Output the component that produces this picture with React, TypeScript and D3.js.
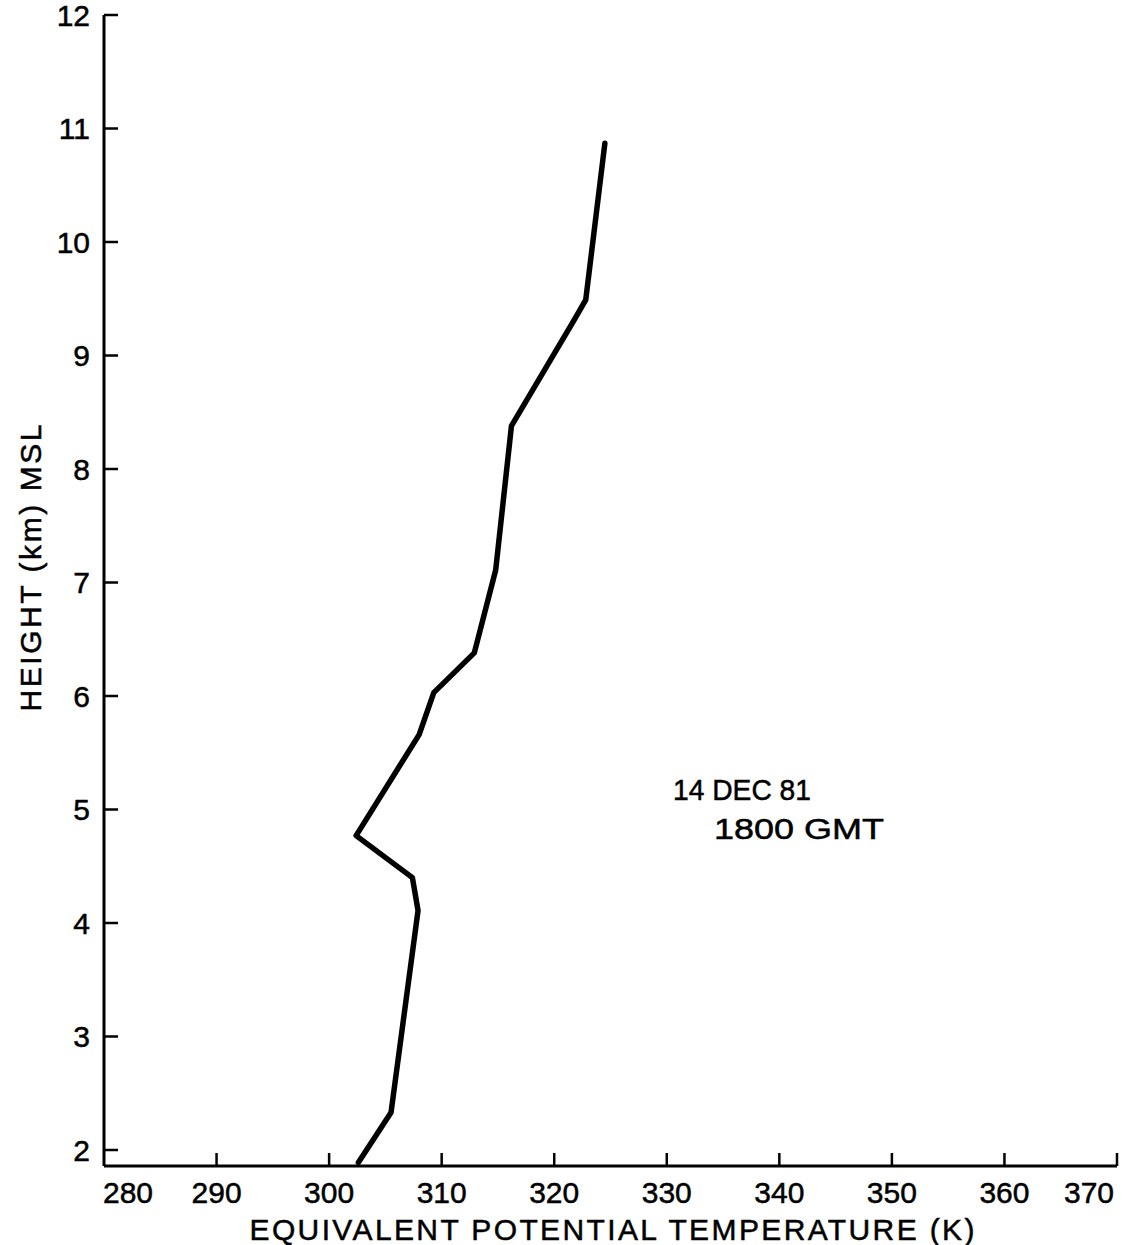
import React, { useEffect, useRef } from "react";
import * as d3 from "d3";

const thetaE = [324.5, 322.8, 321.7, 316.2, 314.8, 312.9, 309.3, 308.0, 302.4, 307.4, 307.9, 305.5, 302.6];
const heightKm = [10.87, 9.49, 9.30, 8.38, 7.11, 6.38, 6.03, 5.66, 4.77, 4.40, 4.11, 2.33, 1.89];
const xTicks = [280, 290, 300, 310, 320, 330, 340, 350, 360, 370];
const yTicks = [2, 3, 4, 5, 6, 7, 8, 9, 10, 11, 12];
const annotation = ["14 DEC 81", "1800 GMT"];
const xTitle = "EQUIVALENT POTENTIAL TEMPERATURE (K)";
const yTitle = "HEIGHT (km) MSL";

export default function App() {
  const ref = useRef<SVGSVGElement>(null);
  useEffect(() => {
    const svg = d3.select(ref.current);
    svg.selectAll("*").remove();
    const font = "Liberation Sans, Arial, sans-serif";
    const x = d3.scaleLinear().domain([280, 370]).range([104, 1117]);
    const y = d3.scaleLinear().domain([2, 12]).range([1150, 15]);
    const yBottom = 1166;
    const txt = (sel: any) =>
      sel.attr("font-family", font).attr("font-size", 30).attr("fill", "#000")
        .attr("stroke", "#000").attr("stroke-width", 0.5);

    // axes lines
    svg.append("line").attr("x1", x(280)).attr("x2", x(280)).attr("y1", y(12)).attr("y2", yBottom)
      .attr("stroke", "#000").attr("stroke-width", 3);
    svg.append("line").attr("x1", x(280)).attr("x2", x(370)).attr("y1", yBottom).attr("y2", yBottom)
      .attr("stroke", "#000").attr("stroke-width", 3);

    // y ticks
    const gy = svg.append("g");
    yTicks.forEach((t) => {
      gy.append("line").attr("x1", x(280)).attr("x2", x(280) + 14).attr("y1", y(t)).attr("y2", y(t))
        .attr("stroke", "#000").attr("stroke-width", 2.5);
      txt(gy.append("text").attr("x", 90).attr("y", y(t)).attr("dy", "0.36em").attr("text-anchor", "end"))
        .text(String(t));
    });

    // x ticks
    const gx = svg.append("g");
    xTicks.forEach((t) => {
      if (t !== 280) {
        gx.append("line").attr("x1", x(t)).attr("x2", x(t)).attr("y1", yBottom).attr("y2", yBottom - 13)
          .attr("stroke", "#000").attr("stroke-width", 2.5);
      }
      const lx = t === 280 ? x(t) + 24 : t === 370 ? x(t) - 28 : x(t);
      txt(gx.append("text").attr("x", lx).attr("y", 1203).attr("text-anchor", "middle")).text(String(t));
    });

    // titles
    txt(svg.append("text").attr("x", 612).attr("y", 1240).attr("text-anchor", "middle")
      .attr("textLength", 725).attr("lengthAdjust", "spacing")).text(xTitle);
    txt(svg.append("text").attr("transform", "translate(41,568) rotate(-90)").attr("text-anchor", "middle")
      .attr("textLength", 287).attr("lengthAdjust", "spacing")).text(yTitle);

    // annotation
    txt(svg.append("text").attr("x", 673).attr("y", 800)
      .attr("textLength", 138).attr("lengthAdjust", "spacingAndGlyphs")).text(annotation[0]);
    txt(svg.append("text").attr("x", 714).attr("y", 839)
      .attr("textLength", 170).attr("lengthAdjust", "spacingAndGlyphs")).text(annotation[1]);

    // profile line
    const pts: [number, number][] = thetaE.map((v, i) => [v, heightKm[i]]);
    const line = d3.line<[number, number]>().x((d) => x(d[0])).y((d) => y(d[1]));
    svg.append("path").attr("d", line(pts)).attr("fill", "none").attr("stroke", "#000")
      .attr("stroke-width", 5.5).attr("stroke-linejoin", "round").attr("stroke-linecap", "round");
  }, []);
  return (
    <svg ref={ref} width={1128} height={1245}
      style={{ position: "absolute", left: 0, top: 0, background: "#fff" }} />
  );
}
